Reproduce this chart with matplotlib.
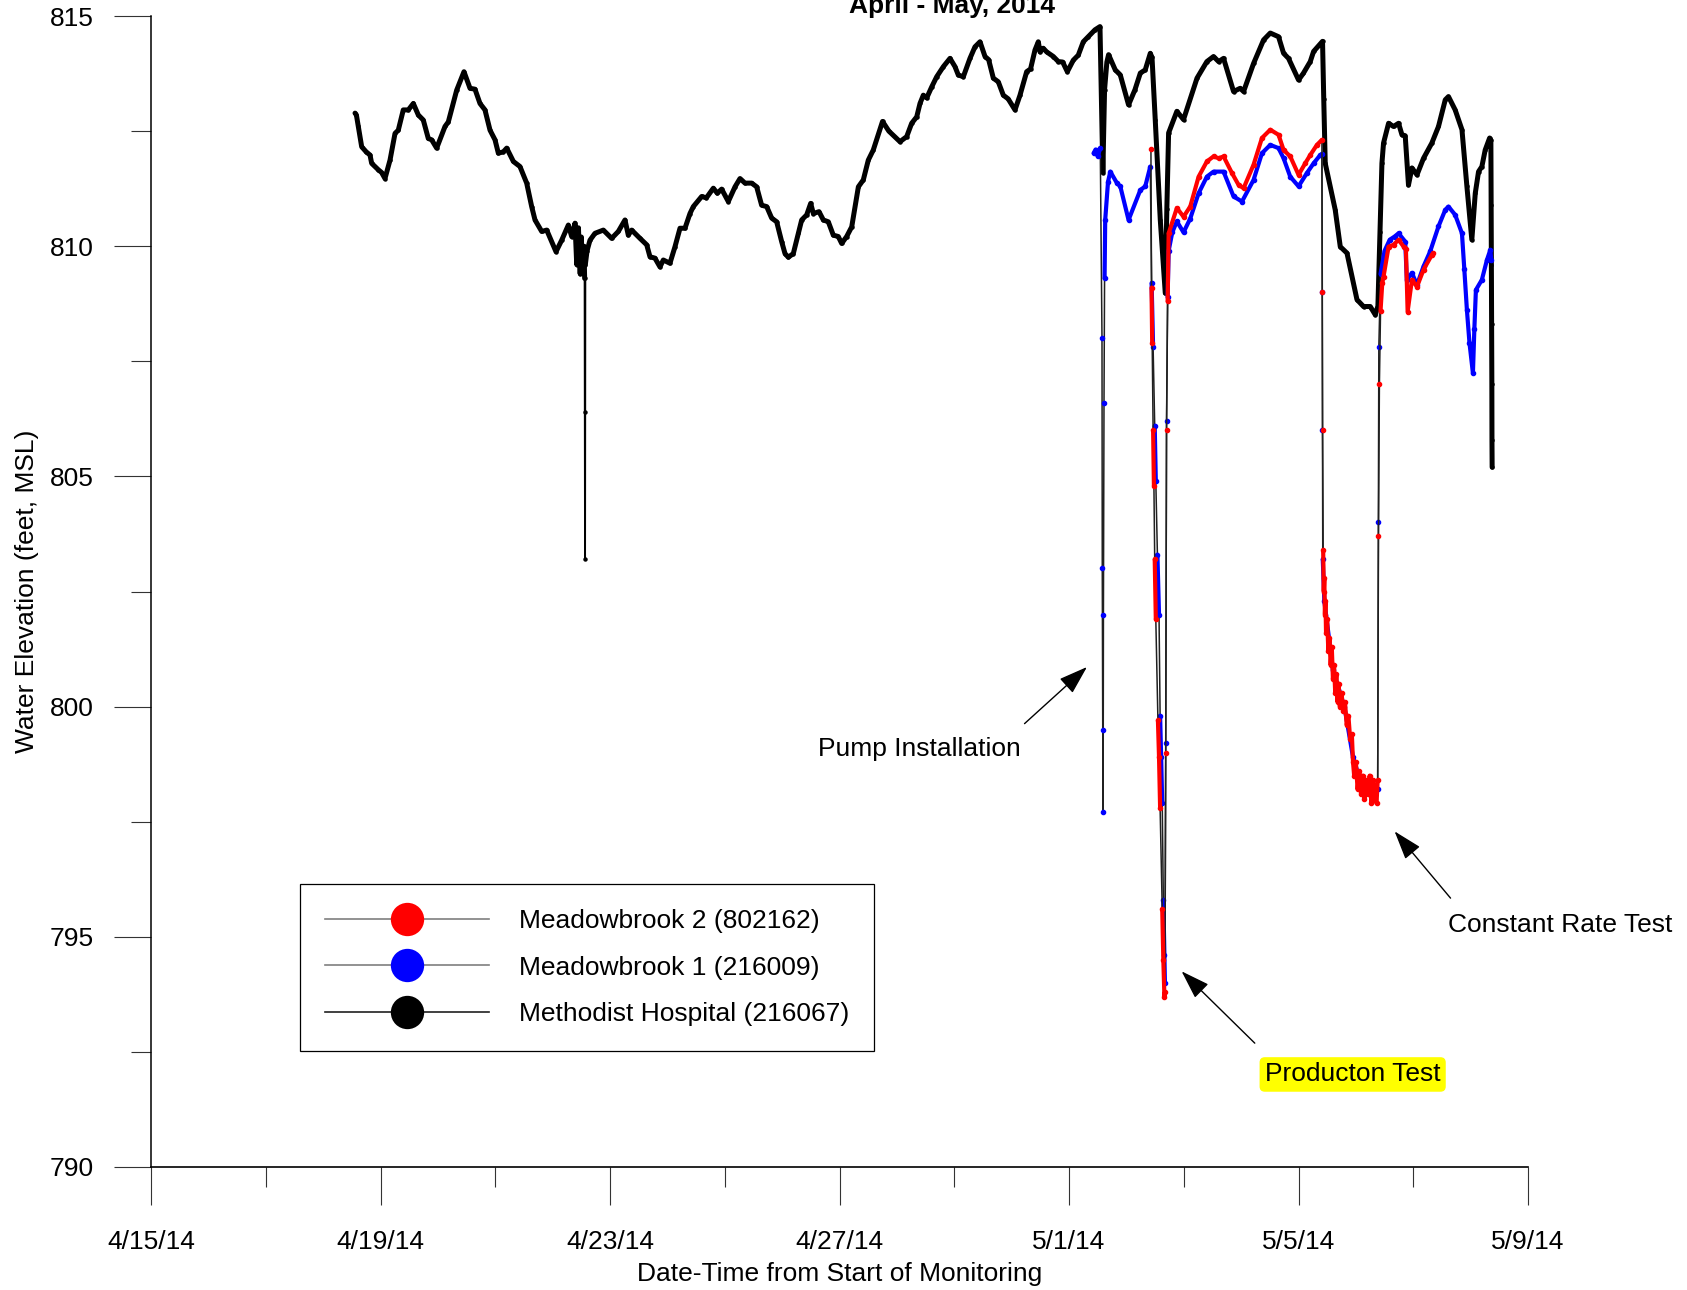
import numpy as np
import pandas as pd
import matplotlib
matplotlib.use("Agg")
import matplotlib.pyplot as plt
import matplotlib.dates as mdates
from matplotlib.lines import Line2D

plt.rcParams['font.family'] = ['Liberation Sans', 'DejaVu Sans']

start_date = "2014-04-15"

# Methodist Hospital (216067) - days since start, elevation (ft MSL)
black_days = [3.556, 3.58, 3.614, 3.672, 3.75, 3.817, 3.846, 3.962, 4.02, 4.078, 4.166, 4.253, 4.31,
              4.397, 4.485, 4.572, 4.659, 4.746, 4.833, 4.892, 4.979, 5.124, 5.182, 5.328, 5.455, 5.56,
              5.647, 5.734, 5.821, 5.909, 5.996, 6.054, 6.141, 6.2, 6.316, 6.431, 6.548, 6.635, 6.693,
              6.81, 6.897, 7.059, 7.158, 7.274, 7.332, 7.39, 7.42, 7.45, 7.48, 7.50, 7.52, 7.545, 7.558,
              7.562, 7.565, 7.57, 7.6, 7.651, 7.738, 7.884, 8.029, 8.145, 8.261, 8.319, 8.378,
              8.523, 8.64, 8.697, 8.784, 8.871, 8.929, 9.045, 9.133, 9.22, 9.307, 9.394, 9.452, 9.598,
              9.68, 9.801, 9.87, 9.946, 10.062, 10.179, 10.266, 10.353, 10.469, 10.556, 10.643, 10.731,
              10.818, 10.905, 10.992, 11.05, 11.108, 11.195, 11.282, 11.341, 11.428, 11.498, 11.544,
              11.643, 11.718, 11.805, 11.892, 11.979, 12.038, 12.125, 12.213, 12.329, 12.415, 12.502,
              12.589, 12.75, 12.86, 13.054, 13.171, 13.258, 13.346, 13.403, 13.461, 13.52, 13.607,
              13.694, 13.81, 13.926, 14.013, 14.07, 14.158, 14.274, 14.361, 14.449, 14.536, 14.6,
              14.681, 14.768, 14.855, 14.94, 15.059, 15.146, 15.262, 15.33, 15.407, 15.465, 15.495,
              15.55, 15.611, 15.727, 15.814, 15.89, 15.971, 16.075, 16.162, 16.249, 16.336, 16.453,
              16.54, 16.575, 16.59, 16.62, 16.66, 16.69, 16.806, 16.894, 17.038, 17.15, 17.243, 17.329,
              17.417, 17.447, 17.503, 17.591, 17.678, 17.705, 17.736, 17.88, 17.996, 18.231, 18.403,
              18.519, 18.608, 18.694, 18.868, 18.984, 19.043, 19.217, 19.391, 19.508, 19.652, 19.74,
              19.826, 20.001, 20.087, 20.205, 20.263, 20.391, 20.419, 20.44, 20.466, 20.64, 20.728,
              20.845, 21.019, 21.133, 21.251, 21.338, 21.384, 21.42, 21.454, 21.482, 21.57, 21.656,
              21.744, 21.803, 21.86, 21.917, 21.977, 22.065, 22.179, 22.324, 22.44, 22.558, 22.614,
              22.731, 22.849, 22.935, 23.021, 23.081, 23.138, 23.196, 23.254, 23.331, 23.353, 23.358,
              23.362, 23.366, 23.37, 23.372, 23.375]
black_elev = [812.89, 812.85, 812.60, 812.16, 812.05, 811.98, 811.80, 811.66, 811.6, 811.47, 811.87,
              812.45, 812.52, 812.96, 812.96, 813.10, 812.85, 812.74, 812.34, 812.31, 812.13, 812.60,
              812.70, 813.39, 813.79, 813.43, 813.41, 813.10, 812.96, 812.52, 812.31, 812.02, 812.05,
              812.13, 811.84, 811.73, 811.37, 810.86, 810.57, 810.32, 810.35, 809.88, 810.13, 810.46,
              810.21, 810.50, 809.6, 810.4, 809.4, 810.2, 809.5, 810.0, 809.3, 806.4, 803.2,
              809.6, 809.9, 810.13, 810.28, 810.35, 810.17, 810.32, 810.57, 810.24, 810.35, 810.17,
              810.03, 809.77, 809.74, 809.55, 809.70, 809.63, 809.99, 810.39, 810.39, 810.71, 810.86,
              811.08, 811.05, 811.26, 811.15, 811.24, 810.97, 811.29, 811.47, 811.37, 811.37, 811.29,
              810.89, 810.86, 810.61, 810.53, 810.10, 809.84, 809.76, 809.84, 810.28, 810.57, 810.68,
              810.93, 810.71, 810.75, 810.57, 810.53, 810.24, 810.21, 810.06, 810.21, 810.42, 811.29,
              811.44, 811.87, 812.09, 812.71, 812.50, 812.27, 812.38, 812.67, 812.81, 813.10, 813.28,
              813.22, 813.46, 813.68, 813.90, 814.08, 813.90, 813.72, 813.68, 814.08, 814.33, 814.44,
              814.12, 814.05, 813.65, 813.57, 813.28, 813.2, 812.96, 813.28, 813.79, 813.85, 814.26,
              814.44, 814.22, 814.3, 814.22, 814.12, 814.01, 814.0, 813.79, 814.04, 814.15, 814.44,
              814.55, 814.70, 814.77, 812.6, 811.6, 813.4, 814.0, 814.16, 813.83, 813.72, 813.07,
              813.4, 813.76, 813.83, 814.19, 814.1, 812.75, 810.57, 808.98, 810.8, 812.46, 812.93,
              812.75, 813.65, 814.01, 814.12, 814.01, 814.08, 813.36, 813.43, 813.36, 813.97, 814.48,
              814.63, 814.55, 814.19, 814.08, 813.61, 813.76, 814.01, 814.23, 814.41, 814.45, 813.2,
              811.80, 810.79, 809.99, 809.85, 808.84, 808.69, 808.69, 808.51, 808.7, 810.3, 811.80,
              812.24, 812.67, 812.60, 812.67, 812.42, 812.4, 811.33, 811.70, 811.55, 811.91, 812.24,
              812.60, 813.18, 813.25, 812.96, 812.53, 811.30, 810.14, 811.15, 811.62, 811.73, 812.09,
              812.35, 812.30, 810.9, 809.6, 808.3, 807.0, 805.8, 805.2]

# Meadowbrook 1 (216009)
blue_days = [16.429, 16.463, 16.50, 16.545, 16.575, 16.58, 16.588, 16.595, 16.60, 16.61, 16.62, 16.631,
             16.68, 16.72, 16.836, 16.894, 17.038, 17.243, 17.329, 17.417, 17.44, 17.466, 17.494, 17.513,
             17.541, 17.569, 17.588, 17.606, 17.625, 17.644, 17.663, 17.672, 17.686, 17.70, 17.719,
             17.737, 17.80, 17.88, 17.996, 18.113, 18.259, 18.403, 18.519, 18.694, 18.868, 19.015,
             19.217, 19.363, 19.508, 19.652, 19.74, 19.856, 20.001, 20.147, 20.263, 20.379, 20.408,
             20.413, 20.418, 20.423, 20.45, 20.6, 20.8, 20.95, 21.1, 21.3, 21.38, 21.392, 21.40, 21.43,
             21.5, 21.59, 21.675, 21.744, 21.86, 21.888, 21.977, 22.065, 22.179, 22.296, 22.44, 22.558,
             22.614, 22.731, 22.849, 22.89, 22.935, 22.98, 23.04, 23.065, 23.092, 23.196, 23.284,
             23.343, 23.36]
blue_elev = [812.02, 812.10, 811.95, 812.13, 808.0, 803.0, 799.5, 797.7, 802.0, 806.6, 809.3, 810.57,
             811.4, 811.62, 811.37, 811.3, 810.57, 811.22, 811.30, 811.73, 809.2, 807.8, 806.1, 804.9,
             803.3, 802.0, 799.8, 798.9, 797.9, 795.8, 794.6, 794.0, 799.2, 806.2, 808.9, 809.9, 810.3,
             810.54, 810.30, 810.6, 811.15, 811.51, 811.62, 811.62, 811.08, 810.97, 811.44, 812.02,
             812.20, 812.13, 811.91, 811.51, 811.30, 811.59, 811.80, 811.98, 812.00, 809.0, 806.0,
             803.2, 802.3, 800.8, 800.0, 798.9, 798.3, 798.2, 798.2, 804.0, 807.8, 809.4, 809.9,
             810.14, 810.21, 810.28, 810.10, 809.27, 809.42, 809.16, 809.56, 809.89, 810.43, 810.79,
             810.86, 810.68, 810.28, 809.5, 808.62, 807.9, 807.24, 808.2, 809.05, 809.27, 809.70,
             809.92, 809.7]

# Meadowbrook 2 (802162)
red_days = [17.428, 17.438, 17.45, 17.466, 17.48, 17.494, 17.513, 17.55, 17.569, 17.588, 17.625, 17.644,
            17.663, 17.672, 17.686, 17.70, 17.719, 17.737, 17.88, 17.996, 18.113, 18.259, 18.403, 18.519,
            18.608, 18.694, 18.84, 18.956, 19.043, 19.217, 19.363, 19.508, 19.652, 19.74, 19.856,
            20.001, 20.117, 20.205, 20.321, 20.408, 20.415, 20.42, 20.43, 20.44, 20.45, 20.46, 20.47,
            20.48, 20.50, 20.52, 20.54, 20.56, 20.58, 20.60, 20.62, 20.64, 20.66, 20.68, 20.70, 20.72,
            20.75, 20.78, 20.81, 20.84, 20.87, 20.90, 20.93, 20.95, 20.97, 21.00, 21.03, 21.06, 21.09,
            21.12, 21.15, 21.18, 21.21, 21.24, 21.27, 21.30, 21.33, 21.36, 21.38, 21.394, 21.41, 21.43,
            21.46, 21.482, 21.57, 21.656, 21.744, 21.832, 21.872, 21.902, 21.977, 22.065, 22.179,
            22.324, 22.35]
red_elev = [812.11, 809.1, 807.9, 806.0, 804.8, 803.2, 801.9, 799.7, 798.9, 797.8, 795.6, 794.5, 793.7,
            793.8, 799.0, 806.0, 808.8, 810.28, 810.83, 810.64, 810.86, 811.51, 811.84, 811.95, 811.91,
            811.95, 811.59, 811.33, 811.26, 811.77, 812.35, 812.53, 812.42, 812.09, 811.95, 811.55,
            811.80, 811.98, 812.20, 812.31, 809.0, 806.0, 803.4, 802.5, 802.8, 802.0, 802.3, 801.6,
            801.9, 801.2, 801.5, 800.9, 801.3, 800.6, 800.9, 800.3, 800.7, 800.1, 800.5, 800.0,
            800.3, 799.9, 800.1, 799.6, 799.8, 799.3, 799.4, 798.8, 798.5, 798.8, 798.2, 798.6,
            798.1, 798.5, 798.0, 798.4, 798.1, 798.5, 797.9, 798.4, 798.0, 797.9, 798.4, 803.7, 807.0,
            808.6, 809.2, 809.34, 809.99, 810.03, 810.14, 809.99, 809.95, 808.58, 809.27, 809.12,
            809.49, 809.81, 809.85]

series_names = ["Meadowbrook 2 (802162)", "Meadowbrook 1 (216009)", "Methodist Hospital (216067)"]
tick_labels = ["4/15/14", "4/19/14", "4/23/14", "4/27/14", "5/1/14", "5/5/14", "5/9/14"]


def split_steep(x, y, thr):
    # break the heavy line where the logger jumped fast (sparse points)
    x = np.asarray(x, float)
    y = np.asarray(y, float)
    idx = np.where(np.abs(np.diff(y)) > thr)[0] + 1
    xs = np.insert(x, idx, (x[idx - 1] + x[idx]) / 2)
    ys = np.insert(y, idx, np.nan)
    return xs, ys


def main():
    base = mdates.date2num(pd.Timestamp(start_date))
    fs = 19

    fig = plt.figure(figsize=(16.87, 12.9), dpi=100)
    ax = fig.add_axes([151 / 1687, 1 - 1167 / 1290, 1377 / 1687, 1151 / 1290])

    # Methodist Hospital
    bx = base + np.array(black_days)
    ax.plot(bx, black_elev, color='black', lw=1.4, marker='o', ms=2.2, zorder=2)
    tx, ty = split_steep(bx, black_elev, 2.5)
    ax.plot(tx, ty, color='black', lw=3.6, solid_capstyle='round', solid_joinstyle='round', zorder=2)

    # Meadowbrook 1 then 2
    for days, elev, col, z in [(blue_days, blue_elev, '#0000ff', 3), (red_days, red_elev, '#ff0000', 4)]:
        x = base + np.array(days)
        ax.plot(x, elev, color='#202020', lw=1.1, zorder=z)
        ax.plot(x, elev, ls='none', marker='o', ms=3, color=col, zorder=z)
        tx, ty = split_steep(x, elev, 1.5)
        ax.plot(tx, ty, color=col, lw=3.0, solid_capstyle='round', solid_joinstyle='round', zorder=z)

    ax.set_xlim(base, base + 24)
    ax.set_ylim(790, 815)

    major = mdates.date2num(pd.date_range(start_date, periods=7, freq='4D').to_pydatetime())
    minor = mdates.date2num(pd.date_range(start_date, periods=13, freq='2D').to_pydatetime())
    ax.set_xticks(major)
    ax.set_xticklabels(tick_labels)
    ax.set_xticks(minor, minor=True)
    ax.set_yticks(np.arange(790, 816, 5))
    ax.set_yticks(np.arange(790, 815.1, 2.5), minor=True)

    ax.tick_params(axis='both', which='major', length=27, width=0.8, direction='out',
                   labelsize=fs, color='#333333')
    ax.tick_params(axis='both', which='minor', length=14.5, width=0.8, direction='out',
                   color='#333333')
    ax.tick_params(axis='x', which='major', pad=18.5)
    ax.tick_params(axis='y', which='major', pad=14)

    for s in ['top', 'right']:
        ax.spines[s].set_visible(False)
    ax.spines['left'].set_linewidth(1.1)
    ax.spines['bottom'].set_linewidth(1.2)

    ax.set_xlabel("Date-Time from Start of Monitoring", fontsize=fs, labelpad=5.5)
    ax.set_ylabel("Water Elevation (feet, MSL)", fontsize=fs, labelpad=8)

    # title sits partly above the page edge, as in the source
    fig.text(952 / 1687, 1 - 12.5 / 1290, "April - May, 2014", ha='center', va='baseline',
             fontsize=fs, fontweight='bold')

    # annotations
    arrow = dict(arrowstyle='-|>,head_length=0.9,head_width=0.3', lw=1.0, color='black',
                 mutation_scale=20, shrinkA=0, shrinkB=0)
    ax.annotate('', xy=(base + 16.313, 800.86), xytext=(base + 15.225, 799.63), arrowprops=arrow)
    ax.text(base + 13.388, 799.07, "Pump Installation", ha='center', va='center', fontsize=fs)

    ax.annotate('', xy=(base + 17.963, 794.25), xytext=(base + 19.238, 792.69), arrowprops=arrow)
    ax.text(base + 20.944, 792.01, "Producton Test", ha='center', va='center', fontsize=fs,
            bbox=dict(boxstyle='round,pad=0.2', fc='#ffff00', ec='none'))

    ax.annotate('', xy=(base + 21.675, 797.29), xytext=(base + 22.65, 795.84), arrowprops=arrow)
    ax.text(base + 24.563, 795.26, "Constant Rate Test", ha='center', va='center', fontsize=fs)

    # legend
    handles = [
        Line2D([], [], color='#7f7f7f', lw=1.2, marker='o', ms=24, mfc='#ff0000', mec='none'),
        Line2D([], [], color='#7f7f7f', lw=1.2, marker='o', ms=24, mfc='#0000ff', mec='none'),
        Line2D([], [], color='#202020', lw=1.2, marker='o', ms=24, mfc='black', mec='none'),
    ]
    leg = ax.legend(handles, series_names, loc='lower left',
                    bbox_to_anchor=(300 / 1687, 1 - 1051 / 1290), bbox_transform=fig.transFigure,
                    borderaxespad=0, fontsize=fs, handlelength=6.2, handletextpad=1.15,
                    borderpad=0.95, labelspacing=0.85, fancybox=False, framealpha=1,
                    edgecolor='black')
    leg.get_frame().set_linewidth(0.9)

    fig.savefig("out.png", dpi=100)


if __name__ == "__main__":
    main()
